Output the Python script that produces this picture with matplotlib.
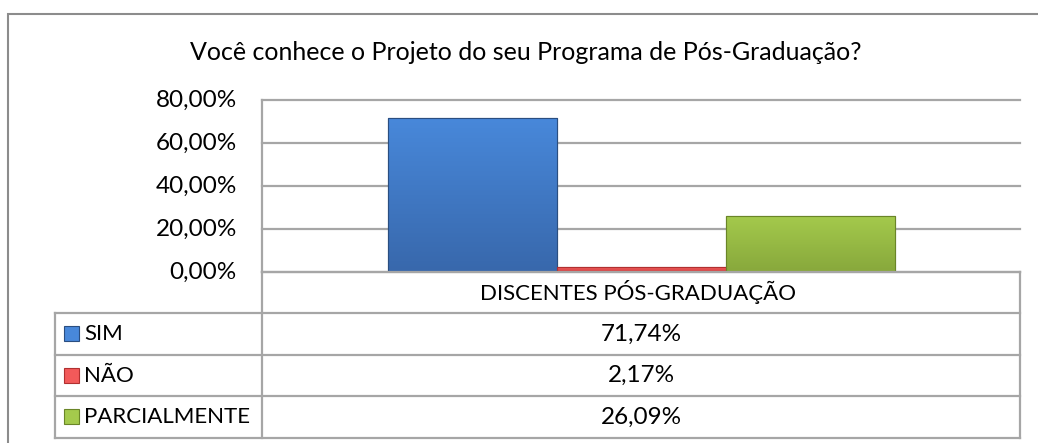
import numpy as np
import matplotlib
matplotlib.use("Agg")
import matplotlib.pyplot as plt
from matplotlib.patches import Rectangle
from matplotlib.lines import Line2D
from matplotlib.colors import LinearSegmentedColormap

# ---- data ----
title = "Você conhece o Projeto do seu Programa de Pós-Graduação?"
category = "DISCENTES PÓS-GRADUAÇÃO"
series = ["SIM", "NÃO", "PARCIALMENTE"]
values = [71.74, 2.17, 26.09]
value_labels = ["71,74%", "2,17%", "26,09%"]
yticks = [0, 20, 40, 60, 80]
ytick_labels = ["0,00%", "20,00%", "40,00%", "60,00%", "80,00%"]

# colours (top light, bottom dark) for gradient bars
grad = [("#4888DA", "#3868AC"), ("#F25A5A", "#D04040"), ("#A4CA4C", "#88A83C")]
edge = ["#2A4E80", "#B03030", "#6A8528"]

W, H = 1038, 443
fig = plt.figure(figsize=(W / 100, H / 100), dpi=100)
plt.rcParams['font.family'] = ['Lato', 'DejaVu Sans']
FONT = ['Lato', 'DejaVu Sans']
FS = 17.5
FS_CAPS = 16
GRID = "#A6A6A6"


def fx(px):
    return px / W


def fy(py):
    return 1 - py / H


# outer border
fig.add_artist(Rectangle((fx(8), fy(445)), fx(1040 - 8), (445 - 14) / H,
                         fill=False, edgecolor="#8C8C8C", lw=1.5,
                         transform=fig.transFigure))

# plot area
x0, x1 = 262, 1020
ytop, ybot = 100, 272
ax = fig.add_axes([fx(x0), fy(ybot), fx(x1 - x0), (ybot - ytop) / H])
ax.set_xlim(0, 1)
ax.set_ylim(0, 80)
for s in ax.spines.values():
    s.set_visible(False)
ax.set_xticks([])
ax.set_yticks([])
for t in yticks:
    ax.axhline(t, color=GRID, lw=1.6, zorder=0, clip_on=False)
ax.axvline(0, color=GRID, lw=1.6, zorder=0, clip_on=False)
for t, lab in zip(yticks, ytick_labels):
    ax.text(-25 / (x1 - x0), t, lab, ha="right", va="center", fontsize=FS,
            family=FONT, color="#000000", transform=ax.transData)

bw = 169 / (x1 - x0)
n = len(values)
start = 0.5 - n * bw / 2
for i, v in enumerate(values):
    xl = start + i * bw
    r = ax.bar(xl, v, width=bw, align="edge", color=grad[i][0],
               edgecolor=edge[i], lw=0.8, zorder=2)[0]
    cmap = LinearSegmentedColormap.from_list("g%d" % i, [grad[i][1], grad[i][0]])
    im = ax.imshow(np.linspace(0, 1, 64).reshape(-1, 1), cmap=cmap, aspect="auto",
                   extent=[r.get_x(), r.get_x() + r.get_width(), 0, r.get_height()],
                   origin="lower", zorder=2.5, interpolation="bilinear")
    im.set_clip_path(r)
    ax.add_patch(Rectangle((r.get_x(), 0), r.get_width(), r.get_height(),
                           fill=False, edgecolor=edge[i], lw=0.8, zorder=3))
ax.set_xlim(0, 1)
ax.set_ylim(0, 80)

# data table
rows_y = [272, 313, 355, 396, 438]
tl, tm, tr = 55, 262, 1020
tkw = dict(color=GRID, lw=1.6, transform=fig.transFigure)
fig.add_artist(Line2D([fx(tm), fx(tm)], [fy(rows_y[0]), fy(rows_y[-1])], **tkw))
fig.add_artist(Line2D([fx(tr), fx(tr)], [fy(rows_y[0]), fy(rows_y[-1])], **tkw))
fig.add_artist(Line2D([fx(tl), fx(tl)], [fy(rows_y[1]), fy(rows_y[-1])], **tkw))
fig.add_artist(Line2D([fx(tm), fx(tr)], [fy(rows_y[0]), fy(rows_y[0])], **tkw))
for yy in rows_y[1:]:
    fig.add_artist(Line2D([fx(tl), fx(tr)], [fy(yy), fy(yy)], **tkw))

cx = (tm + tr) / 2
fig.text(fx(cx - 3), fy((rows_y[0] + rows_y[1]) / 2), category, ha="center",
         va="center", fontsize=FS_CAPS, family=FONT)
for i, (s, lab) in enumerate(zip(series, value_labels)):
    yc = (rows_y[i + 1] + rows_y[i + 2]) / 2
    fig.text(fx(cx), fy(yc), lab, ha="center", va="center", fontsize=FS, family=FONT)
    fig.text(fx(84), fy(yc), s, ha="left", va="center", fontsize=FS_CAPS, family=FONT)
    fig.add_artist(Rectangle((fx(64), fy(yc + 7)), fx(15), 15 / H,
                             facecolor=grad[i][0], edgecolor=edge[i], lw=0.8,
                             transform=fig.transFigure))

fig.text(fx(526), fy(53), title, ha="center", va="center", fontsize=18, family=FONT)

fig.savefig("out.png", dpi=100)
